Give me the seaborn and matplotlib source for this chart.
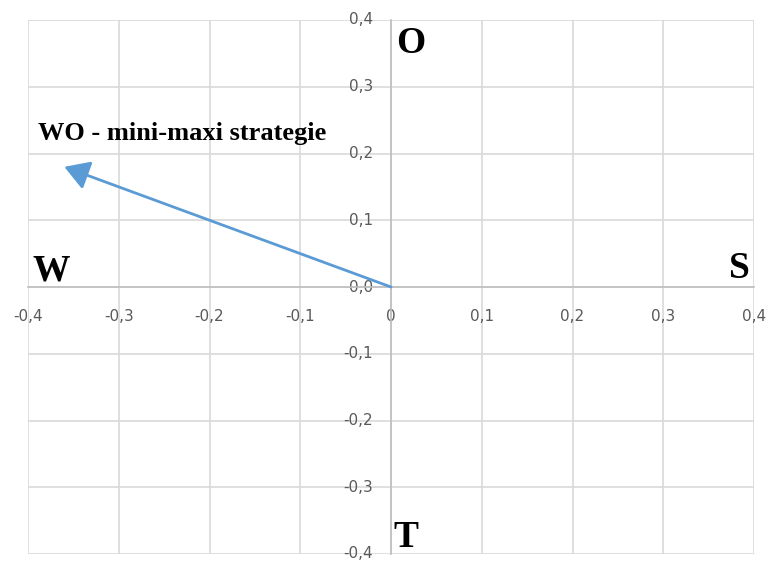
import matplotlib
matplotlib.use("Agg")
import matplotlib.pyplot as plt
import seaborn as sns

# data
vector_x = [0.0, -0.36]
vector_y = [0.0, 0.18]
vector_label = "WO - mini-maxi strategie"
ticks = [-0.4, -0.3, -0.2, -0.1, 0.0, 0.1, 0.2, 0.3, 0.4]
x_tick_labels = ["-0,4", "-0,3", "-0,2", "-0,1", "0", "0,1", "0,2", "0,3", "0,4"]
y_tick_labels = ["-0,4", "-0,3", "-0,2", "-0,1", "0,0", "0,1", "0,2", "0,3", "0,4"]
quadrants = {"W": (-0.395, 0.01), "S": (0.396, 0.013), "O": (0.006, 0.35), "T": (0.003, -0.39)}

sns.set_style("white")
plt.rcParams["font.family"] = ["DejaVu Sans"]

fig = plt.figure(figsize=(7.68, 5.63), dpi=100)
ax = fig.add_axes([28 / 768, 1 - 554 / 563, (754 - 28) / 768, (554 - 20) / 563])

ax.set_xlim(-0.4, 0.4)
ax.set_ylim(-0.4, 0.4)
ax.set_xticks(ticks)
ax.set_yticks(ticks)
ax.set_xticklabels(x_tick_labels)
ax.set_yticklabels(y_tick_labels)
ax.grid(True, color="#d9d9d9", linewidth=1.2)
ax.set_axisbelow(True)

for side in ["top", "right"]:
    ax.spines[side].set_visible(False)
for side in ["left", "bottom"]:
    ax.spines[side].set_position(("data", 0))
    ax.spines[side].set_color("#bfbfbf")
    ax.spines[side].set_linewidth(1.2)

ax.tick_params(axis="both", length=0, labelsize=11, labelcolor="#595959")
ax.tick_params(axis="x", pad=16)
ax.tick_params(axis="y", pad=13)
for lbl in ax.get_yticklabels():
    lbl.set_verticalalignment("center")

ax.annotate(
    "",
    xy=(vector_x[1], vector_y[1]),
    xytext=(vector_x[0], vector_y[0]),
    arrowprops=dict(arrowstyle="-|>,head_length=0.5,head_width=0.3", color="#5b9bd5",
                    lw=2.0, mutation_scale=30, shrinkA=0, shrinkB=0),
)

ax.text(-0.389, 0.22, vector_label, family="Liberation Serif", fontweight="bold",
        fontsize=19, color="black", ha="left", va="baseline")

for name, (qx, qy) in quadrants.items():
    ha = "right" if name == "S" else "left"
    ax.text(qx, qy, name, family="Liberation Serif", fontweight="bold", fontsize=27,
            color="black", ha=ha, va="baseline")

fig.savefig("out.png", dpi=100)
